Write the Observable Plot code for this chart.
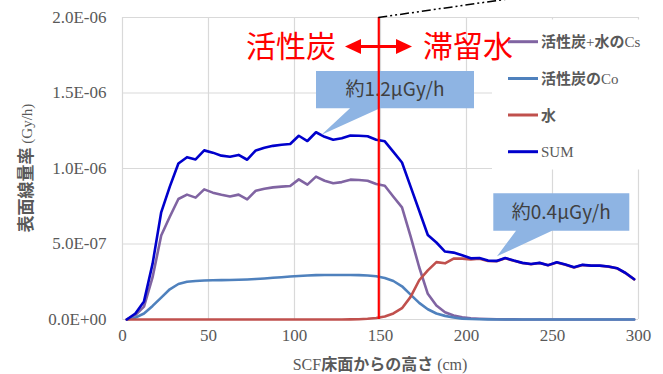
<!DOCTYPE html>
<html><head><meta charset="utf-8">
<script src="https://cdn.jsdelivr.net/npm/d3@7"></script>
<script src="https://cdn.jsdelivr.net/npm/@observablehq/plot@0.6"></script>
<style>
body{margin:0;background:#fff;}
svg{display:block}
</style>
</head><body><div id="chart"></div>
<script>
// heights (cm) of each measurement
const heights = [2.5,7.5,12.5,17.5,22.5,27.5,32.5,37.5,42.5,47.5,
  52.5,57.5,62.5,67.5,72.5,77.5,82.5,87.5,92.5,97.5,
  102.5,107.5,112.5,117.5,122.5,127.5,132.5,137.5,142.5,147.5,
  152.5,157.5,162.5,167.5,172.5,177.5,182.5,187.5,192.5,197.5,
  202.5,207.5,212.5,217.5,222.5,227.5,232.5,237.5,242.5,247.5,
  252.5,257.5,262.5,267.5,272.5,277.5,282.5,287.5,292.5,297.5];
// values in µGy/h
const csValues = [0,0.03,0.085,0.28,0.556,0.68,0.798,0.827,0.807,0.862,
  0.84,0.826,0.815,0.827,0.795,0.853,0.866,0.875,0.88,0.884,
  0.928,0.893,0.946,0.919,0.902,0.91,0.926,0.924,0.919,0.897,
  0.886,0.813,0.743,0.55,0.346,0.17,0.093,0.048,0.026,0.015,
  0.008,0.005,0.003,0.002,0.001,0.001,0,0,0,0,
  0,0,0,0,0,0,0,0,0,0];
const coValues = [0,0.012,0.04,0.09,0.145,0.2,0.235,0.25,0.255,0.258,
  0.26,0.261,0.262,0.263,0.265,0.268,0.272,0.276,0.28,0.285,
  0.288,0.291,0.294,0.295,0.295,0.295,0.295,0.294,0.291,0.286,
  0.275,0.255,0.22,0.165,0.11,0.068,0.04,0.024,0.013,0.006,
  0.003,0.002,0.001,0,0,0,0,0,0,0,
  0,0,0,0,0,0,0,0,0,0];
const waterValues = [0,0,0,0,0,0,0,0,0,0,
  0,0,0,0,0,0,0,0,0,0,
  0,0,0,0,0,0,0.001,0.002,0.005,0.01,
  0.02,0.04,0.075,0.15,0.26,0.325,0.38,0.372,0.403,0.403,
  0.398,0.402,0.387,0.386,0.406,0.389,0.374,0.366,0.374,0.359,
  0.378,0.363,0.345,0.361,0.356,0.356,0.35,0.339,0.307,0.266];
const sumValues = [0,0.04,0.12,0.37,0.71,0.88,1.033,1.075,1.06,1.12,
  1.105,1.085,1.078,1.09,1.058,1.12,1.137,1.15,1.157,1.162,
  1.217,1.182,1.24,1.21,1.19,1.2,1.218,1.217,1.214,1.19,
  1.18,1.11,1.04,0.88,0.72,0.56,0.51,0.45,0.443,0.425,
  0.405,0.407,0.39,0.388,0.407,0.39,0.375,0.367,0.375,0.36,
  0.379,0.364,0.346,0.362,0.357,0.357,0.351,0.34,0.308,0.267];

const seriesNames = ["活性炭+水のCs", "活性炭のCo", "水", "SUM"];
const seriesColors = ["#8064A2", "#4F81BD", "#C0504D", "#0000CC"];
const xTicks = [0, 50, 100, 150, 200, 250, 300];
const yTicks = [0, 5e-7, 1e-6, 1.5e-6, 2e-6];
const unit = 1e-6;
const boundary = 149;               // 活性炭 / 滞留水 boundary height (cm)
const regionLabels = ["活性炭", "滞留水"];
const calloutLabels = ["約1.2μGy/h", "約0.4μGy/h"];
const calloutTargets = [[116, 1.22], [218, 0.415]];   // (cm, µGy/h)
const xTitle = ["SCF", "床面からの高さ", " (cm)"];
const yTitle = ["表面線量率", " (Gy/h)"];

const seriesValues = [csValues, coValues, waterValues, sumValues];
const table = seriesNames.flatMap((name, i) =>
  heights.map((h, j) => ({series: name, x: h, y: seriesValues[i][j] * unit})));

function fmtE(v) {
  if (v === 0) return "0.0E+00";
  const [m, e] = v.toExponential(1).split("e");
  const ei = +e;
  return m + "E" + (ei < 0 ? "-" : "+") + String(Math.abs(ei)).padStart(2, "0");
}

const SERIF = "Liberation Serif";
const CJK = "Noto Sans CJK JP";

const plot = Plot.plot({
  width: 663, height: 374,
  marginLeft: 122, marginRight: 25, marginTop: 17, marginBottom: 55,
  style: {background: "#fff"},
  x: {domain: [0, 300], axis: null},
  y: {domain: [0, 2e-6], axis: null},
  color: {domain: seriesNames, range: seriesColors},
  marks: [
    Plot.ruleX(xTicks, {stroke: "#d9d9d9", strokeWidth: 1.2}),
    Plot.ruleY(yTicks, {stroke: "#d9d9d9", strokeWidth: 1.2}),
    Plot.text(xTicks, {x: d => d, frameAnchor: "bottom", dy: 21, text: d => String(d),
      fontFamily: SERIF, fontSize: 17, fill: "#595959"}),
    Plot.text(yTicks, {y: d => d, frameAnchor: "left", dx: -16, textAnchor: "end", text: fmtE,
      fontFamily: SERIF, fontSize: 17, fill: "#595959"}),
    Plot.line(table, {x: "x", y: "y", z: "series", stroke: "series", strokeWidth: 2.6, strokeLinejoin: "round"}),
    Plot.ruleX([boundary], {stroke: "#FF0000", strokeWidth: 2.2, ariaDescription: "boundary"})
  ]
});
document.getElementById("chart").appendChild(plot);

const svg = d3.select(plot);
const xs = plot.scale("x"), ys = plot.scale("y");
const X = v => xs.apply(v), Y = v => ys.apply(v * unit);

// find the boundary rule group so callouts go under it
let boundaryG = plot.querySelector('[aria-description="boundary"]');
if (!boundaryG) { const rules = plot.querySelectorAll('g[aria-label="rule"]'); boundaryG = rules[rules.length - 1]; }

// legend box (white, hides grid)
const legend = svg.append("g").attr("text-anchor", "start");
legend.append("rect").attr("x", 492).attr("y", 19.5).attr("width", 171).attr("height", 150).attr("fill", "#fff");
const legendY = [41.7, 78.5, 115, 151.7];
const legendParts = [
  [["活性炭", CJK, true], ["+", SERIF, false], ["水の", CJK, true], ["Cs", SERIF, false]],
  [["活性炭の", CJK, true], ["Co", SERIF, false]],
  [["水", CJK, true]],
  [["SUM", SERIF, false]]
];
seriesNames.forEach((name, i) => {
  legend.append("line").attr("x1", 508).attr("x2", 538).attr("y1", legendY[i]).attr("y2", legendY[i])
    .attr("stroke", seriesColors[i]).attr("stroke-width", 3);
  const t = legend.append("text").attr("x", 541).attr("y", legendY[i] + 5.5).attr("text-anchor", "start")
    .attr("fill", "#595959").attr("font-size", 15);
  legendParts[i].forEach(([s, f, b]) => {
    t.append("tspan").text(s).attr("font-family", f).attr("font-weight", b ? "bold" : "normal");
  });
});

// callouts
const calloutRects = [[316, 71, 474, 108.3, 350, 380], [493.3, 193.3, 629.3, 230.7, 516, 552]];
const cg = document.createElementNS("http://www.w3.org/2000/svg", "g");
if (boundaryG) plot.insertBefore(cg, boundaryG); else plot.appendChild(cg);
const cgs = d3.select(cg);
calloutRects.forEach(([x1, y1, x2, y2, b1, b2], i) => {
  const [tx, ty] = calloutTargets[i];
  cgs.append("path")
    .attr("d", `M${x1},${y1}H${x2}V${y2}H${b2}L${X(tx)},${Y(ty)}L${b1},${y2}H${x1}Z`)
    .attr("fill", "#8EB4E3");
  cgs.append("text").attr("x", (x1 + x2) / 2).attr("y", (y1 + y2) / 2 + 6.8)
    .attr("text-anchor", "middle").attr("font-family", CJK).attr("font-size", 19)
    .attr("fill", "#404040").text(calloutLabels[i]);
});

// region labels + arrow
const overlay = svg.append("g");
overlay.append("text").attr("x", 291).attr("y", 57).attr("text-anchor", "middle")
  .attr("font-family", CJK).attr("font-size", 30).attr("fill", "#FF0000").text(regionLabels[0]);
overlay.append("text").attr("x", 468).attr("y", 57).attr("text-anchor", "middle")
  .attr("font-family", CJK).attr("font-size", 30).attr("fill", "#FF0000").text(regionLabels[1]);
const ay = 46.5;
overlay.append("line").attr("x1", 355).attr("x2", 402).attr("y1", ay).attr("y2", ay)
  .attr("stroke", "#FF0000").attr("stroke-width", 3);
overlay.append("path").attr("d", `M345,${ay}L361,${ay - 7.5}L361,${ay + 7.5}Z`).attr("fill", "#FF0000");
overlay.append("path").attr("d", `M412,${ay}L396,${ay - 7.5}L396,${ay + 7.5}Z`).attr("fill", "#FF0000");

// dash-dot leader line from top of boundary
const bx = X(boundary);
overlay.append("line").attr("x1", bx).attr("y1", 17.5).attr("x2", bx + 150).attr("y2", 17.5 - 150 * 0.143)
  .attr("stroke", "#000").attr("stroke-width", 1.5).attr("stroke-dasharray", "9 3 2 3 2 3");

// axis titles
const xt = svg.append("text").attr("x", 380).attr("y", 370).attr("text-anchor", "middle")
  .attr("fill", "#595959").attr("font-size", 16);
xt.append("tspan").attr("font-family", SERIF).text(xTitle[0]);
xt.append("tspan").attr("font-family", CJK).attr("font-weight", "bold").text(xTitle[1]);
xt.append("tspan").attr("font-family", SERIF).text(xTitle[2]);

const yt = svg.append("text").attr("transform", "translate(32,168) rotate(-90)").attr("text-anchor", "middle")
  .attr("fill", "#595959").attr("font-size", 17);
yt.append("tspan").attr("font-family", CJK).attr("font-weight", "bold").text(yTitle[0]);
yt.append("tspan").attr("font-family", SERIF).attr("font-size", 15).text(yTitle[1]);
</script>
</body></html>
